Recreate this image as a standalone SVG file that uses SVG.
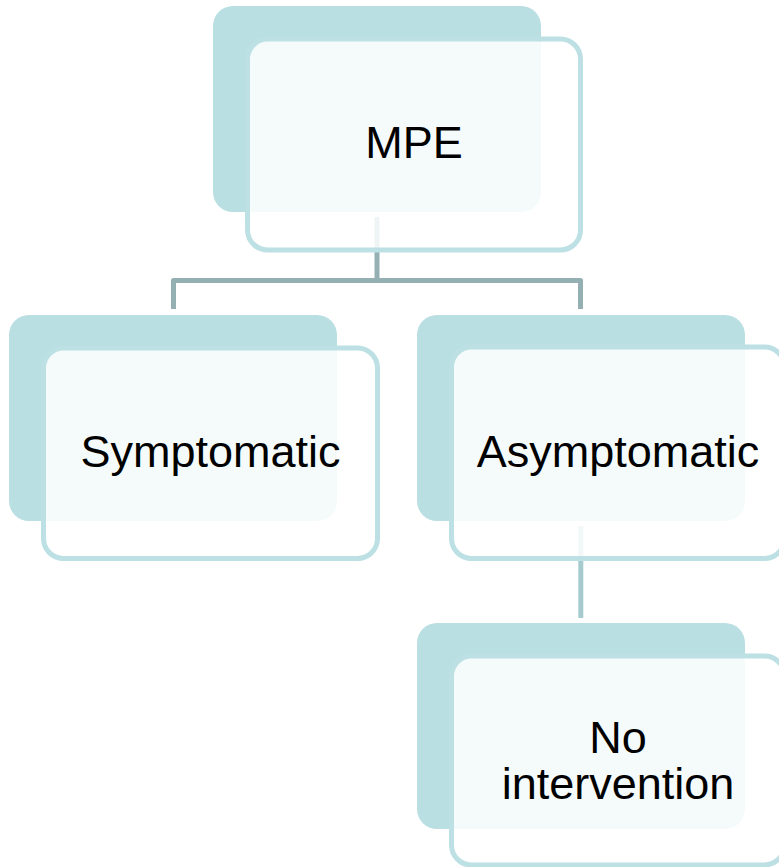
<svg xmlns="http://www.w3.org/2000/svg" width="779" height="867" viewBox="0 0 779 867">
  <style>
    .back { fill: #BADFE2; }
    .front { fill: #FFFFFF; fill-opacity: 0.855; stroke: #BCE0E3; stroke-width: 5; }
    .label { font-family: "Liberation Sans", Arial, sans-serif; font-size: 45px; fill: #000000; text-anchor: middle; }
    .link { fill: none; stroke: #94B0B3; stroke-width: 5; stroke-linejoin: round; }
    .link2 { fill: none; stroke: #A6CBCE; stroke-width: 5; }
  </style>
  <rect width="779" height="867" fill="#FFFFFF"/>

  <!-- connectors, drawn beneath the node cards -->
  <g id="connectors">
    <path class="link" d="M377 217 V280.5 M173.5 309 V280.5 H580.5 V309"/>
    <path class="link2" d="M580.8 526 V618"/>
  </g>

  <g id="node-mpe">
    <rect class="back" x="213" y="6" width="328" height="206" rx="20"/>
    <rect class="front" x="247.5" y="39" width="333" height="211" rx="20"/>
    <text class="label" x="414" y="158">MPE</text>
  </g>

  <g id="node-symptomatic">
    <rect class="back" x="9" y="315" width="328" height="206" rx="20"/>
    <rect class="front" x="43.5" y="348" width="334" height="210.5" rx="20"/>
    <text class="label" x="210.5" y="467">Symptomatic</text>
  </g>

  <g id="node-asymptomatic">
    <rect class="back" x="417" y="315" width="328" height="206" rx="20"/>
    <rect class="front" x="451.5" y="347" width="333" height="211.5" rx="20"/>
    <text class="label" x="618" y="467">Asymptomatic</text>
  </g>

  <g id="node-no-intervention">
    <rect class="back" x="417" y="623" width="328" height="206" rx="20"/>
    <rect class="front" x="451.5" y="656" width="333" height="209" rx="20"/>
    <text class="label" x="618" y="752.5">No</text>
    <text class="label" x="618" y="798.5">intervention</text>
  </g>
</svg>
